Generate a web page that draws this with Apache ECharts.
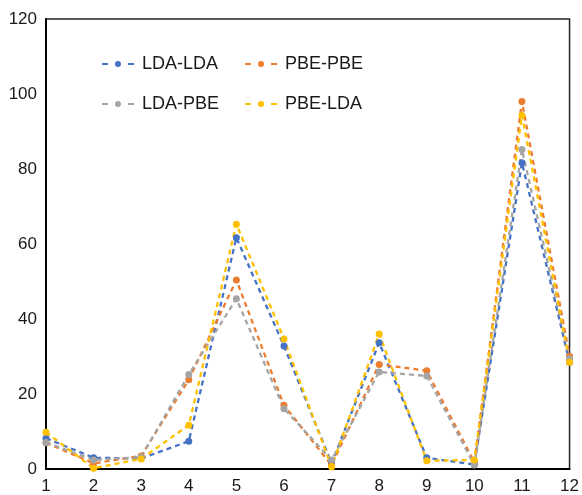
<!DOCTYPE html>
<html><head><meta charset="utf-8">
<script src="https://cdn.jsdelivr.net/npm/echarts@6/dist/echarts.min.js"></script>
<style>html,body{margin:0;padding:0;background:#fff}#c{width:582px;height:495px}</style>
</head><body><div id="c"></div>
<script>
const categories = ['1','2','3','4','5','6','7','8','9','10','11','12'];
const ldaLda = [8.2, 3.0, 2.8, 7.4, 61.7, 32.8, 1.5, 33.7, 3.0, 1.2, 81.7, 28.5];
const pbePbe = [7.0, 1.5, 3.5, 23.8, 50.4, 17.0, 1.0, 27.9, 26.2, 1.8, 98.0, 30.1];
const ldaPbe = [7.1, 2.4, 3.2, 25.2, 45.4, 16.1, 2.4, 25.9, 24.8, 1.1, 85.2, 29.4];
const pbeLda = [9.8, 0.2, 2.7, 11.7, 65.3, 34.7, 0.6, 36.0, 2.2, 2.4, 94.3, 28.5];
const yTicks = [0, 20, 40, 60, 80, 100, 120];
const names = ['LDA-LDA', 'PBE-PBE', 'LDA-PBE', 'PBE-LDA'];
const values = [ldaLda, pbePbe, ldaPbe, pbeLda];
const colors = ['#4472C4', '#ED7D31', '#A5A5A5', '#FFC000'];

const font = 'Liberation Sans, Arial, sans-serif';
const legendIcon = 'path://M0,2.5h6v2h-6z M26,2.5h6v2h-6z M13,3.5a3,3 0 1,0 6,0a3,3 0 1,0 -6,0z';
const chart = echarts.init(document.getElementById('c'), null, {renderer: 'canvas'});
const legendPos = [
  {left: 102, top: 55},
  {left: 245, top: 55},
  {left: 102, top: 95},
  {left: 245, top: 95}
];
chart.setOption({
  animation: false,
  backgroundColor: '#fff',
  grid: {left: 46, right: 11, top: 19, bottom: 24, show: true, borderColor: '#222', borderWidth: 1.5},
  legend: names.map((n, i) => ({
    data: [n], icon: legendIcon, left: legendPos[i].left, top: legendPos[i].top,
    itemWidth: 32, itemHeight: 6, itemGap: 0, padding: 0, symbolKeepAspect: false,
    itemStyle: {color: colors[i], borderWidth: 0},
    textStyle: {fontSize: 18, color: '#1a1a1a', fontFamily: font, padding: [0, 0, 0, 3]}
  })),
  xAxis: {
    type: 'category', data: categories, boundaryGap: false,
    axisLine: {lineStyle: {color: '#000', width: 2}},
    axisTick: {show: false},
    axisLabel: {fontSize: 17, color: '#1a1a1a', fontFamily: font, margin: 9}
  },
  yAxis: {
    type: 'value', min: yTicks[0], max: yTicks[yTicks.length - 1], interval: 20,
    axisLine: {show: true, lineStyle: {color: '#000', width: 2}},
    axisTick: {show: false},
    splitLine: {show: false},
    axisLabel: {fontSize: 17, color: '#1a1a1a', fontFamily: font, margin: 9}
  },
  series: names.map((n, i) => ({
    name: n, type: 'line', data: values[i],
    symbol: 'circle', symbolSize: 7,
    itemStyle: {color: colors[i]},
    lineStyle: {color: colors[i], width: 2.3, type: [5, 4]}
  }))
});
</script></body></html>
